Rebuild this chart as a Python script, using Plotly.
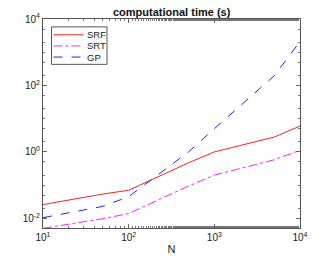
import plotly.graph_objects as go

N = [10, 50, 100, 500, 1000, 5000, 10000]
srf = [0.026, 0.054, 0.07, 0.47, 1.0, 2.8, 6.0]
srt = [0.005, 0.0098, 0.014, 0.094, 0.2, 0.58, 1.12]
gp = [0.0105, 0.023, 0.045, 1.0, 5.0, 195, 2100]

series_names = ["SRF", "SRT", "GP"]
series_colors = ["#ff2020", "#ff20ff", "#2020ff"]
series_dash = ["solid", "dashdot", "dash"]

x_tickvals = [10, 100, 1000, 10000]
x_ticktext = ["10<sup>1</sup>", "10<sup>2</sup>", "10<sup>3</sup>", "10<sup>4</sup>"]
y_tickvals = [0.01, 1, 100, 10000]
y_ticktext = ["10<sup>-2</sup>", "10<sup>0</sup>", "10<sup>2</sup>", "10<sup>4</sup>"]

W, H = 332, 266
L, R, T, B = 43, 32, 19, 35
pw, ph = W - L - R, H - T - B

def px(xp):
    return (xp - L) / pw

def py(yp):
    return (H - B - yp) / ph

fig = go.Figure()
for name, vals, col, dsh in zip(series_names, [srf, srt, gp], series_colors, series_dash):
    fig.add_trace(go.Scatter(x=N, y=vals, mode="lines", name=name,
                             line=dict(color=col, width=1, dash=dsh), showlegend=False))

axis_common = dict(
    type="log", showgrid=False, zeroline=False, showline=True,
    linecolor="#555", linewidth=1, mirror="ticks", ticks="inside",
    ticklen=4, tickcolor="#666",
    minor=dict(ticks="inside", ticklen=2, tickcolor="#777", showgrid=False),
    tickfont=dict(size=10, color="#222"),
)

fig.update_xaxes(**axis_common, range=[1, 4], tickvals=x_tickvals, ticktext=x_ticktext,
                 title=dict(text="N", font=dict(size=11, color="#222"), standoff=3))
fig.update_yaxes(**axis_common, range=[-2.29, 4], tickvals=y_tickvals, ticktext=y_ticktext)

shapes = [dict(type="rect", xref="paper", yref="paper",
               x0=px(51.5), x1=px(107), y0=py(65), y1=py(27),
               line=dict(color="#555", width=1), fillcolor="white", layer="above")]
annotations = [dict(text="<b>computational time (s)</b>", xref="paper", yref="paper",
                    x=0.5, y=py(12), xanchor="center", yanchor="middle",
                    showarrow=False, font=dict(size=11, color="#111"))]
for i, (name, col, dsh) in enumerate(zip(series_names, series_colors, series_dash)):
    yy = 35 + i * 11.3
    shapes.append(dict(type="line", xref="paper", yref="paper",
                       x0=px(53.5), x1=px(83.5), y0=py(yy), y1=py(yy),
                       line=dict(color=col, width=1, dash=dsh), layer="above"))
    annotations.append(dict(text=name, xref="paper", yref="paper",
                            x=px(84.5), y=py(yy), xanchor="left", yanchor="middle",
                            showarrow=False, font=dict(size=9.5, color="#222")))

fig.update_layout(
    width=W, height=H,
    margin=dict(l=L, r=R, t=T, b=B),
    paper_bgcolor="white", plot_bgcolor="white",
    font=dict(family="Liberation Sans, Arial, sans-serif", size=10, color="#222"),
    shapes=shapes, annotations=annotations,
    showlegend=False,
)

fig.write_html("out.html", config={"displayModeBar": False},
               post_script="document.body.style.margin='0';document.body.style.overflow='hidden';")
